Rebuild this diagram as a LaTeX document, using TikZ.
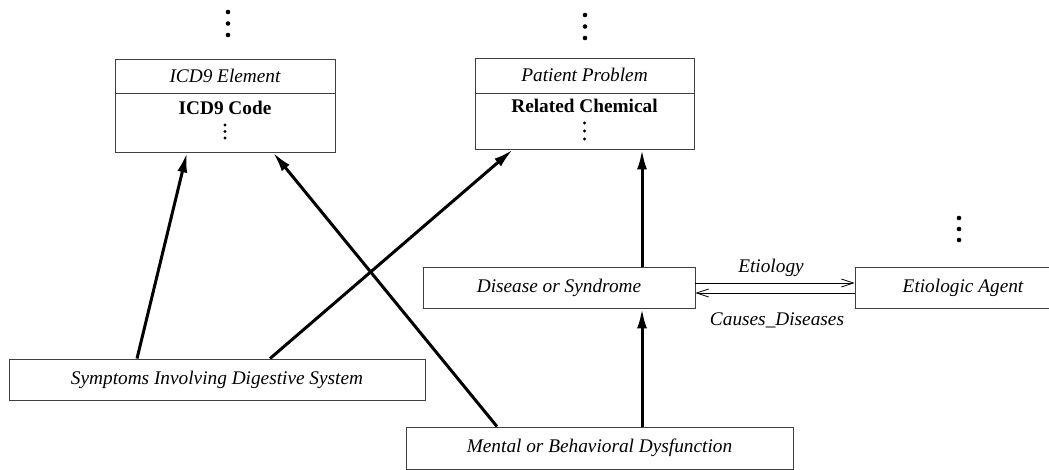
\documentclass[tikz,border=0pt]{standalone}
\usepackage{fontspec}
\setmainfont{Liberation Serif}
\usetikzlibrary{arrows.meta}
\begin{document}
\begin{tikzpicture}[x=1pt,y=-1pt,
  box/.style={draw=black!75,line width=0.9pt,rectangle,inner sep=0pt},
  lbl/.style={font=\fontsize{19.3}{21}\selectfont\itshape,inner sep=0pt},
  bold/.style={font=\fontsize{19.3}{21}\selectfont\bfseries,inner sep=0pt},
  isa/.style={line width=3pt,-{Latex[length=20pt,width=10pt]}},
  rel/.style={line width=0.8pt,-{Straight Barb[length=12pt,width=8pt,line width=0.8pt]}},
  bigdot/.style={circle,fill=black,inner sep=0pt,minimum size=4.6pt},
  smalldot/.style={circle,fill=black,inner sep=0pt,minimum size=3.2pt}]
\useasboundingbox (0,0) rectangle (1049,470);

% class boxes with a title compartment
\node[box,minimum width=220pt,minimum height=93pt] (icd) at (225,105.5) {};
\draw[draw=black!75,line width=0.9pt] (icd.west |- 0,93) -- (icd.east |- 0,93);
\node[lbl] (icdt) at (225,76) {ICD9 Element};
\node[bold] (icda) at (225,108) {ICD9 Code};
\node[smalldot] (icdd1) at (225,125) {};
\node[smalldot] (icdd2) at (225,131.5) {};
\node[smalldot] (icdd3) at (225,138) {};

\node[box,minimum width=219pt,minimum height=91pt] (pat) at (584.5,103.5) {};
\draw[draw=black!75,line width=0.9pt] (pat.west |- 0,93) -- (pat.east |- 0,93);
\node[lbl] (patt) at (584.5,75) {Patient Problem};
\node[bold] (pata) at (584.5,106) {Related Chemical};
\node[smalldot] (patd1) at (584.5,123) {};
\node[smalldot] (patd2) at (584.5,131) {};
\node[smalldot] (patd3) at (584.5,139) {};

% plain boxes
\node[box,lbl,minimum width=272pt,minimum height=41pt] (dis) at (559,287.5) {Disease or Syndrome};
\node[box,lbl,minimum width=196pt,minimum height=41pt] (eti) at (953,287.5) {};
\node[lbl] (etit) at (963,287.5) {Etiologic Agent};
\node[box,lbl,minimum width=416pt,minimum height=41pt] (sym) at (217,379.5) {Symptoms Involving Digestive System};
\node[box,lbl,minimum width=387pt,minimum height=42pt] (men) at (599.5,448) {Mental or Behavioral Dysfunction};

% continuation dots above the upper classes
\foreach \n/\x/\y in {a/228/12, b/228/23.5, c/228/35,
                      d/585/15, e/585/26.5, f/585/38,
                      g/959/218, h/959/229, i/959/240}
  \node[bigdot] (cont\n) at (\x,\y) {};

% generalisation arrows
\draw[isa] ([xshift=-80pt]sym.north) -- ([xshift=-38pt]icd.south);
\draw[isa] ([xshift=53pt]sym.north) -- ([xshift=-71.5pt]pat.south);
\draw[isa] ([xshift=-102.5pt]men.north) -- ([xshift=48pt]icd.south);
\draw[isa] ([xshift=42.5pt]men.north) -- ([xshift=83pt]dis.south);
\draw[isa] ([xshift=83pt]dis.north) -- ([xshift=57.5pt]pat.south);

% associations
\draw[rel] (dis.east |- 0,283) -- node[lbl,above=6pt,xshift=-4pt] (etiol) {Etiology} (eti.west |- 0,283);
\draw[rel] (eti.west |- 0,293) -- node[lbl,below=19pt,xshift=2pt] (caus) {Causes\_Diseases} (dis.east |- 0,293);
\end{tikzpicture}
\end{document}
